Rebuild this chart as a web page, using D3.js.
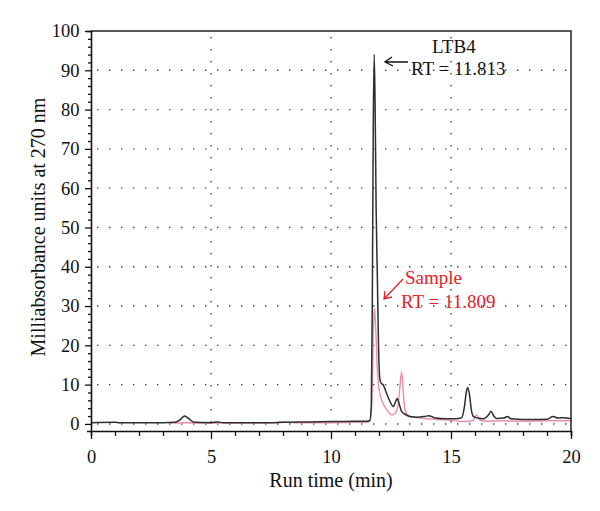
<!DOCTYPE html>
<html><head><meta charset="utf-8">
<script src="https://cdn.jsdelivr.net/npm/d3@7"></script>
<style>body{margin:0;background:#fff}svg{display:block}</style>
</head><body><svg id="c" width="600" height="511"></svg>
<script>
const ltb4Time = [0,1.0,1.2,3.0,3.5,3.7,3.9,4.1,4.3,5.0,5.3,5.5,7.5,8.0,9.0,10.0,11.0,11.5,11.62,11.68,11.72,11.76,11.8,11.84,11.88,11.93,11.98,12.04,12.1,12.18,12.3,12.46,12.6,12.7,12.76,12.82,12.94,13.1,13.29,13.6,13.9,14.08,14.3,14.82,15.2,15.45,15.55,15.65,15.7,15.78,15.85,15.93,16.1,16.35,16.55,16.67,16.78,16.9,17.2,17.35,17.5,18.0,18.5,19.0,19.26,19.45,19.7,20.0];
const ltb4Value = [0.3,0.4,0.3,0.3,0.4,1.0,2.0,1.2,0.4,0.3,0.5,0.3,0.3,0.4,0.5,0.6,0.7,0.7,0.9,5,30,75,94,80,55,38,20,11.2,10.3,9.9,8,5.7,4.4,5.8,6.5,5.5,3.2,2.4,1.9,1.7,1.9,2.1,1.6,1.3,1.3,1.6,4,8.5,9.3,7,3.5,1.9,1.5,1.3,2.2,3.2,2.0,1.4,1.5,1.9,1.3,1.1,1.1,1.2,1.9,1.5,1.6,1.3];
const sampleTime = [3.3,4,5,7.5,8.0,8.5,10,11.0,11.6,11.68,11.73,11.77,11.81,11.85,11.88,11.93,12.0,12.07,12.2,12.32,12.45,12.53,12.67,12.8,12.88,12.94,13.0,13.08,13.2,13.29,13.6,14,14.5,15.0,15.5,15.9,16.07,16.2,16.5,17,18,19,20];
const sampleValue = [0.2,0.3,0.2,0.3,0.5,0.3,0.3,0.4,0.5,3,12,25,29.4,26,22,13.7,9,6.9,4.8,3.6,2.6,2.3,2.7,5,10,13.3,9,3.6,2.3,1.9,1.6,1.3,1.1,0.9,0.6,0.8,2.3,1.0,0.7,0.8,0.7,0.8,0.8];
const xTicks = [0,5,10,15,20];
const yTicks = [0,10,20,30,40,50,60,70,80,90,100];
const xLabel = "Run time (min)";
const yLabel = "Milliabsorbance units at 270 nm";

const font = "'Liberation Serif', 'DejaVu Serif', serif";
const svg = d3.select("#c");
const L = 91, R = 571, T = 31, B = 431;
const x = d3.scaleLinear().domain([0,20]).range([L,R]);
const y = d3.scaleLinear().domain([-1.8,100]).range([B,T]);

// grid
const g = svg.append("g");
g.selectAll("line.h").data(yTicks.filter(d=>d>0&&d<100).concat([0])).join("line")
  .attr("x1",L).attr("x2",R).attr("y1",d=>y(d)).attr("y2",d=>y(d))
  .attr("stroke","#444").attr("stroke-width",1.4).attr("stroke-dasharray","1.4,10.6").attr("stroke-dashoffset",-6);
g.selectAll("line.v").data(xTicks.filter(d=>d>0&&d<20)).join("line")
  .attr("x1",d=>x(d)).attr("x2",d=>x(d)).attr("y1",T).attr("y2",B)
  .attr("stroke","#444").attr("stroke-width",1.4).attr("stroke-dasharray","1.4,10.6").attr("stroke-dashoffset",-6);

// traces
const line = d3.line().x(d=>x(d[0])).y(d=>y(d[1])).curve(d3.curveMonotoneX);
svg.append("path").datum(sampleTime.map((t,i)=>[t,sampleValue[i]]))
  .attr("d",line).attr("fill","none").attr("stroke","#f08cb0").attr("stroke-width",1.4);
svg.append("path").datum(ltb4Time.map((t,i)=>[t,ltb4Value[i]]))
  .attr("d",line).attr("fill","none").attr("stroke","#2b2f2f").attr("stroke-width",1.5);

// frame
svg.append("path").attr("d",`M${L},${T}H${R}V${B}`).attr("fill","none").attr("stroke","#222").attr("stroke-width",1.5);

// axes
const xAxis = svg.append("g").attr("transform",`translate(0,${B})`)
  .call(d3.axisBottom(x).tickValues(d3.range(0,21,1)).tickSize(5).tickFormat(d=>xTicks.includes(d)?d:""));
xAxis.selectAll(".tick line").attr("y2",d=>xTicks.includes(d)?8:5);
const yAxis = svg.append("g").attr("transform",`translate(${L},0)`)
  .call(d3.axisLeft(y).tickValues(d3.range(0,101,2)).tickSize(4).tickFormat(d=>yTicks.includes(d)?d:""));
yAxis.selectAll(".tick line").attr("x2",d=>yTicks.includes(d)?-6:-3);
[xAxis,yAxis].forEach(a=>{
  a.select(".domain").attr("stroke","#111").attr("stroke-width",1.6);
  a.selectAll(".tick line").attr("stroke","#111").attr("stroke-width",1.3);
  a.selectAll("text").attr("font-family",font).attr("font-size",18.5).attr("fill","#111");
});
xAxis.selectAll("text").attr("dy","1.3em");
yAxis.selectAll("text").attr("dx","-0.25em");
svg.append("text").attr("x",(L+R)/2).attr("y",487).attr("text-anchor","middle")
  .attr("font-family",font).attr("font-size",20).attr("fill","#111").text(xLabel);
svg.append("text").attr("transform",`translate(45,${(T+B)/2 - 4}) rotate(-90)`).attr("text-anchor","middle")
  .attr("font-family",font).attr("font-size",20).attr("fill","#111").text(yLabel);

// annotations
svg.append("text").attr("x",432).attr("y",53)
  .attr("font-family",font).attr("font-size",19).attr("fill","#111").text("LTB4");
svg.append("text").attr("x",411).attr("y",74.5)
  .attr("font-family",font).attr("font-size",19).attr("fill","#111").text("RT = 11.813");
svg.append("path").attr("d","M408,62 L385,62 M392,57 L385,62 L393,66").attr("fill","none").attr("stroke","#111").attr("stroke-width",1.3);

const red = "#e3232b";
svg.append("text").attr("x",405).attr("y",284)
  .attr("font-family",font).attr("font-size",19).attr("fill",red).text("Sample");
svg.append("text").attr("x",401).attr("y",308)
  .attr("font-family",font).attr("font-size",19).attr("fill",red).text("RT = 11.809");
svg.append("path").attr("d","M403,279 L384,299 M385,291 L384,299 L392,297").attr("fill","none").attr("stroke",red).attr("stroke-width",1.3);
</script></body></html>
